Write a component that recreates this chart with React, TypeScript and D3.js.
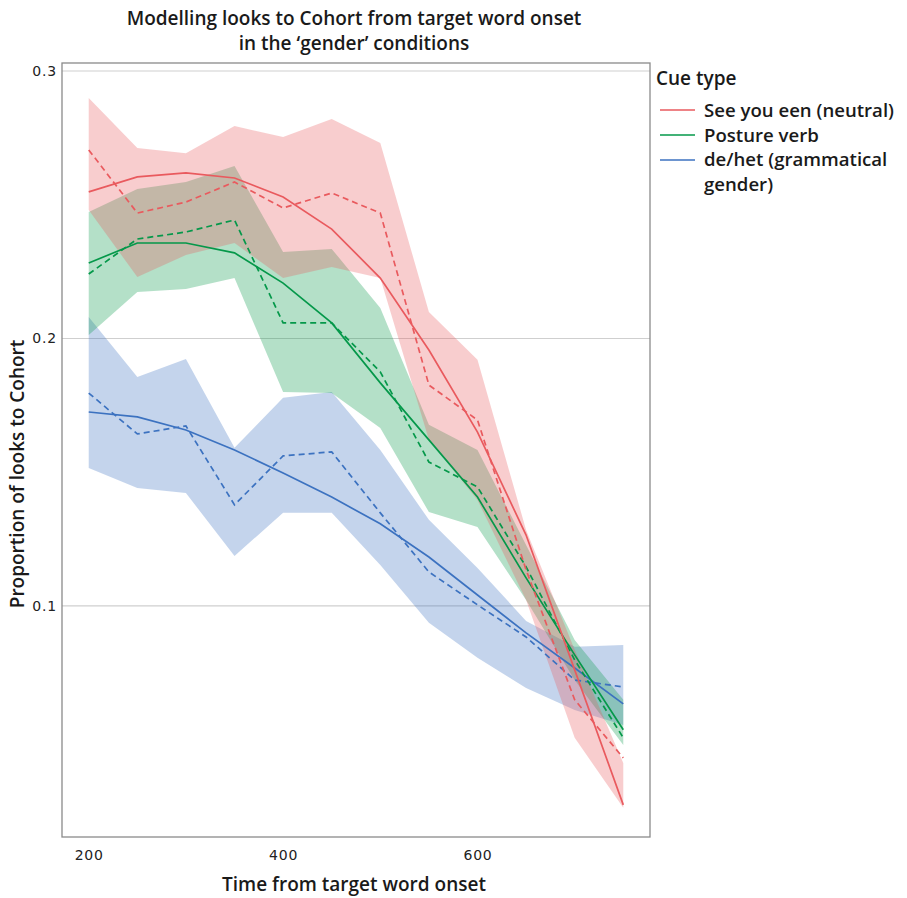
import { useEffect, useRef } from 'react'
import * as d3 from 'd3'

// Looks to Cohort over time, 'gender' conditions: fitted (solid), observed (dashed), ribbons

const times = [200, 250, 300, 350, 400, 450, 500, 550, 600, 650, 700, 750]

const redFit = [0.2548, 0.2604, 0.2619, 0.26, 0.2529, 0.2409, 0.2226, 0.1957, 0.165, 0.1265, 0.0761, 0.0256]
const redObs = [0.2705, 0.2469, 0.251, 0.2585, 0.2488, 0.2544, 0.2469, 0.1826, 0.1695, 0.1135, 0.0649, 0.0432]
const redHi = [0.2899, 0.2712, 0.2693, 0.2794, 0.2753, 0.2821, 0.2731, 0.2099, 0.192, 0.1284, 0.0836, 0.0413]
const redLo = [0.248, 0.223, 0.2312, 0.2357, 0.2226, 0.2267, 0.2226, 0.1621, 0.1396, 0.1022, 0.0507, 0.0245]

const greenFit = [0.2282, 0.2357, 0.2357, 0.232, 0.2207, 0.2058, 0.1834, 0.1621, 0.1407, 0.1105, 0.0817, 0.0537]
const greenObs = [0.2241, 0.2372, 0.2398, 0.2443, 0.2058, 0.2058, 0.1875, 0.1538, 0.1445, 0.1146, 0.0798, 0.0507]
const greenHi = [0.2473, 0.2559, 0.2585, 0.2645, 0.2323, 0.2335, 0.2114, 0.1677, 0.1583, 0.1228, 0.0873, 0.0649]
const greenLo = [0.2013, 0.2174, 0.2185, 0.2226, 0.18, 0.1796, 0.1665, 0.1351, 0.1295, 0.1022, 0.0723, 0.048]

const blueFit = [0.1725, 0.1707, 0.1658, 0.1583, 0.1497, 0.1407, 0.1307, 0.1183, 0.1041, 0.0899, 0.0768, 0.0634]
const blueObs = [0.1796, 0.1643, 0.1673, 0.1378, 0.1561, 0.1576, 0.1348, 0.1127, 0.1004, 0.0884, 0.0723, 0.0697]
const blueHi = [0.208, 0.1856, 0.1923, 0.1591, 0.1778, 0.18, 0.1583, 0.1322, 0.1142, 0.0944, 0.0847, 0.0854]
const blueLo = [0.1516, 0.1441, 0.1422, 0.1187, 0.1348, 0.1348, 0.1153, 0.0937, 0.0806, 0.0693, 0.0611, 0.0555]

const cueLabels = ['See you een (neutral)', 'Posture verb', 'de/het (grammatical', 'gender)']
const xTicks = [200, 400, 600]
const yTicks = [0.1, 0.2, 0.3]

const RED = '#E95A5E'
const GREEN = '#05984A'
const BLUE = '#3C72C0'

const textFont = "'Open Sans', 'Noto Sans', sans-serif"
const tickFont = "'DejaVu Sans', sans-serif"

export default function App() {
  const ref = useRef<HTMLDivElement>(null)

  useEffect(() => {
    const el = ref.current
    if (!el) return
    d3.select(el).selectAll('*').remove()

    const W = 907
    const H = 898
    const left = 62
    const right = 650
    const top = 63
    const bottom = 837

    const svg = d3
      .select(el)
      .append('svg')
      .attr('width', W)
      .attr('height', H)
      .style('position', 'absolute')
      .style('left', '0px')
      .style('top', '0px')
      .style('background', '#fff')

    const x = d3.scaleLinear().domain([172.5, 777.5]).range([left, right])
    const y = d3.scaleLinear().domain([0.0136, 0.303]).range([bottom, top])

    // grid
    svg
      .append('g')
      .selectAll('line')
      .data(yTicks)
      .join('line')
      .attr('x1', left)
      .attr('x2', right)
      .attr('y1', d => y(d))
      .attr('y2', d => y(d))
      .attr('stroke', '#cfcfcf')
      .attr('stroke-width', 1.1)

    const series = [
      { color: BLUE, fit: blueFit, obs: blueObs, hi: blueHi, lo: blueLo },
      { color: GREEN, fit: greenFit, obs: greenObs, hi: greenHi, lo: greenLo },
      { color: RED, fit: redFit, obs: redObs, hi: redHi, lo: redLo },
    ]

    // ribbons, drawn blue -> green -> red so overlaps blend like the original
    const ribbons = svg.append('g')
    series.forEach(s => {
      const band = d3
        .area<number>()
        .x((_, i) => x(times[i]))
        .y0((_, i) => y(s.lo[i]))
        .y1(d => y(d))
      ribbons
        .append('path')
        .attr('d', band(s.hi) || '')
        .attr('fill', s.color)
        .attr('fill-opacity', 0.3)
    })

    const line = d3
      .line<number>()
      .x((_, i) => x(times[i]))
      .y(d => y(d))

    const lines = svg.append('g').attr('fill', 'none').attr('stroke-width', 1.7)
    series.forEach(s => {
      lines.append('path').attr('d', line(s.fit) || '').attr('stroke', s.color)
      lines
        .append('path')
        .attr('d', line(s.obs) || '')
        .attr('stroke', s.color)
        .attr('stroke-dasharray', '6,4')
    })

    // panel border
    svg
      .append('rect')
      .attr('x', left)
      .attr('y', top)
      .attr('width', right - left)
      .attr('height', bottom - top)
      .attr('fill', 'none')
      .attr('stroke', '#8a8a8a')
      .attr('stroke-width', 1.3)

    // axes
    svg
      .append('g')
      .attr('transform', `translate(0,${bottom})`)
      .call(d3.axisBottom(x).tickValues(xTicks).tickSize(0).tickPadding(13))
      .call(g => g.select('.domain').remove())
      .call(g =>
        g
          .selectAll('text')
          .attr('font-family', tickFont)
          .attr('font-size', 14)
          .attr('letter-spacing', 0.8)
          .attr('fill', '#222')
      )

    svg
      .append('g')
      .attr('transform', `translate(${left},0)`)
      .call(d3.axisLeft(y).tickValues(yTicks).tickFormat(d3.format('.1f')).tickSize(0).tickPadding(5))
      .call(g => g.select('.domain').remove())
      .call(g =>
        g
          .selectAll('text')
          .attr('font-family', tickFont)
          .attr('font-size', 14)
          .attr('letter-spacing', 0.8)
          .attr('fill', '#222')
      )

    // titles
    const title = svg
      .append('text')
      .attr('text-anchor', 'middle')
      .attr('font-family', textFont)
      .attr('font-weight', 600)
      .attr('font-size', 19)
      .attr('fill', '#1a1a1a')
    title.append('tspan').attr('x', 354).attr('y', 25).text('Modelling looks to Cohort from target word onset')
    title.append('tspan').attr('x', 354).attr('y', 50).text('in the ‘gender’ conditions')

    svg
      .append('text')
      .attr('x', 354)
      .attr('y', 891)
      .attr('text-anchor', 'middle')
      .attr('font-family', textFont)
      .attr('font-weight', 600)
      .attr('font-size', 19)
      .attr('fill', '#1a1a1a')
      .text('Time from target word onset')

    svg
      .append('text')
      .attr('transform', `translate(24,474) rotate(-90)`)
      .attr('text-anchor', 'middle')
      .attr('font-family', textFont)
      .attr('font-weight', 600)
      .attr('font-size', 19)
      .attr('fill', '#1a1a1a')
      .text('Proportion of looks to Cohort')

    // legend
    const legend = svg.append('g').attr('font-family', textFont).attr('font-weight', 600).attr('fill', '#1a1a1a')
    legend.append('text').attr('x', 656).attr('y', 85).attr('font-size', 19).text('Cue type')
    const keyColors = [RED, GREEN, BLUE]
    keyColors.forEach((c, i) => {
      legend
        .append('line')
        .attr('x1', 660)
        .attr('x2', 695)
        .attr('y1', 110 + i * 25)
        .attr('y2', 110 + i * 25)
        .attr('stroke', c)
        .attr('stroke-width', 1.7)
    })
    cueLabels.forEach((t, i) => {
      legend
        .append('text')
        .attr('x', 704)
        .attr('y', 117 + i * 24.5)
        .attr('font-size', 18.6)
        .text(t)
    })
  }, [])

  return <div ref={ref} style={{ width: 907, height: 898 }} />
}
